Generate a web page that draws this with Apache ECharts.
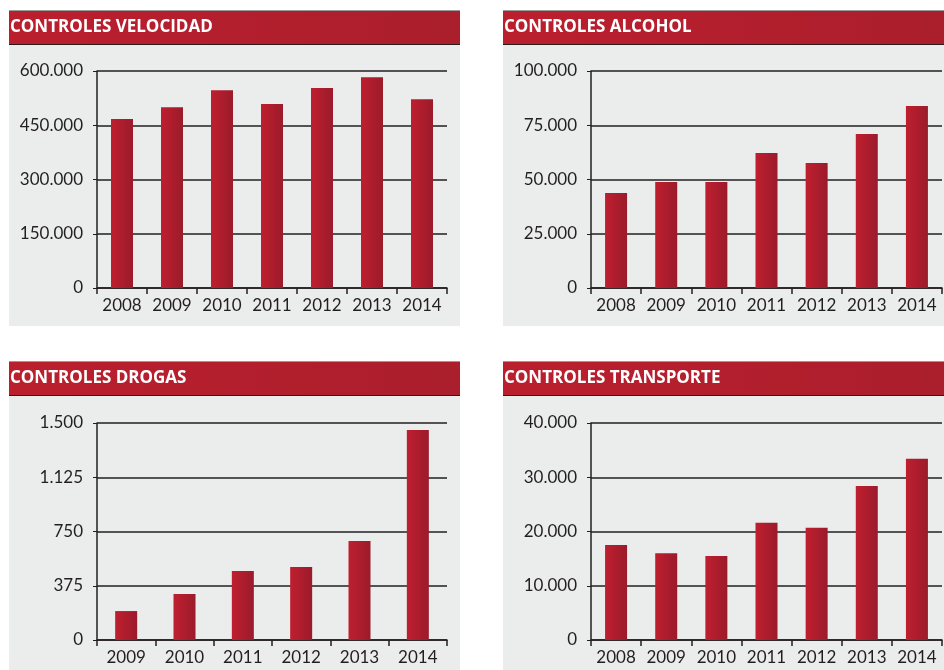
<!DOCTYPE html>
<html>
<head>
<meta charset="utf-8">
<script src="https://cdn.jsdelivr.net/npm/echarts@6/dist/echarts.min.js"></script>
<style>
html,body{margin:0;padding:0;background:#fff;}
#main{width:944px;height:670px;}
</style>
</head>
<body>
<div id="main"></div>
<script>
// datos
var years = ['2008', '2009', '2010', '2011', '2012', '2013', '2014'];
var yearsDrogas = ['2009', '2010', '2011', '2012', '2013', '2014'];

var velocidad = [467000, 500000, 547000, 509000, 553000, 583000, 522000];
var alcohol = [43800, 48800, 48800, 62200, 57600, 71000, 83900];
var drogas = [200, 318, 477, 505, 684, 1452];
var transporte = [17500, 16000, 15500, 21600, 20700, 28400, 33400];

var titulos = ['CONTROLES VELOCIDAD', 'CONTROLES ALCOHOL', 'CONTROLES DROGAS', 'CONTROLES TRANSPORTE'];
var maximos = [600000, 100000, 1500, 40000];
var intervalos = [150000, 25000, 375, 10000];

function miles(v){
	return String(v).replace(/\B(?=(\d{3})+(?!\d))/g, '.');
}

function init(){
	var chart = echarts.init(document.getElementById('main'));
	var fuente = 'Lato, "Open Sans", sans-serif';
	var txt = '#231f20';

	// cajas: x, y de la cabecera, ancho, fondo
	var paneles = [
		{x: 9, y: 11, w: 451, bottom: 326},
		{x: 503, y: 11, w: 441, bottom: 326},
		{x: 9, y: 362, w: 451, bottom: 670},
		{x: 503, y: 362, w: 441, bottom: 670}
	];
	var grids = [
		{left: 97, right: 497, top: 71, bottom: 382},
		{left: 591, right: 2, top: 71, bottom: 382},
		{left: 97, right: 497, top: 423, bottom: 30},
		{left: 591, right: 2, top: 423, bottom: 30}
	];
	var cats = [years, years, yearsDrogas, years];
	var datos = [velocidad, alcohol, drogas, transporte];

	var graphic = [];
	paneles.forEach(function(p, i){
		graphic.push({type: 'rect', z: -10, shape: {x: p.x, y: p.y + 33, width: p.w, height: p.bottom - p.y - 33},
			style: {fill: '#ebecec'}});
		graphic.push({type: 'rect', z: -9, shape: {x: p.x, y: p.y, width: p.w, height: 33},
			style: {fill: new echarts.graphic.LinearGradient(0, 0, 1, 0, [
				{offset: 0, color: '#bb1f2e'}, {offset: 1, color: '#ab1e2c'}])}});
		graphic.push({type: 'line', z: -8, shape: {x1: p.x, y1: p.y - 0.5, x2: p.x + p.w, y2: p.y - 0.5},
			style: {stroke: '#9a9a9a', lineWidth: 1}});
		graphic.push({type: 'line', z: -8, shape: {x1: p.x, y1: p.y + 33.5, x2: p.x + p.w, y2: p.y + 33.5},
			style: {stroke: '#2a1a1a', lineWidth: 1}});
		graphic.push({type: 'text', z: -7, x: p.x + 1, y: p.y + 16,
			style: {text: titulos[i], fill: '#fff', font: 'bold 17px "Open Sans", sans-serif',
				verticalAlign: 'middle'}});
	});

	var xAxis = [], yAxis = [], series = [];
	for (var i = 0; i < 4; i++) {
		xAxis.push({
			type: 'category', gridIndex: i, data: cats[i],
			axisLine: {lineStyle: {color: txt, width: 1.5}},
			axisTick: {show: true, length: 6, interval: 0, lineStyle: {color: txt, width: 1.5}},
			axisLabel: {color: txt, fontFamily: fuente, fontSize: 17, margin: 9, interval: 0}
		});
		yAxis.push({
			type: 'value', gridIndex: i, min: 0, max: maximos[i], interval: intervalos[i],
			axisLine: {show: true, lineStyle: {color: txt, width: 1.5}},
			axisTick: {show: true, length: 4, lineStyle: {color: txt}},
			splitLine: {lineStyle: {color: txt, width: 1.5}},
			axisLabel: {color: txt, fontFamily: fuente, fontSize: 17, margin: 14,
				formatter: function(v){ return miles(v); }}
		});
		series.push({
			type: 'bar', xAxisIndex: i, yAxisIndex: i, data: datos[i], barWidth: 22,
			itemStyle: {color: new echarts.graphic.LinearGradient(0, 0, 1, 0, [
				{offset: 0, color: '#bf1f2f'}, {offset: 1, color: '#9b1b2b'}])}
		});
	}

	chart.setOption({
		animation: false,
		backgroundColor: '#fff',
		graphic: graphic,
		grid: grids,
		xAxis: xAxis,
		yAxis: yAxis,
		series: series
	});
}
init();
</script>
</body>
</html>
